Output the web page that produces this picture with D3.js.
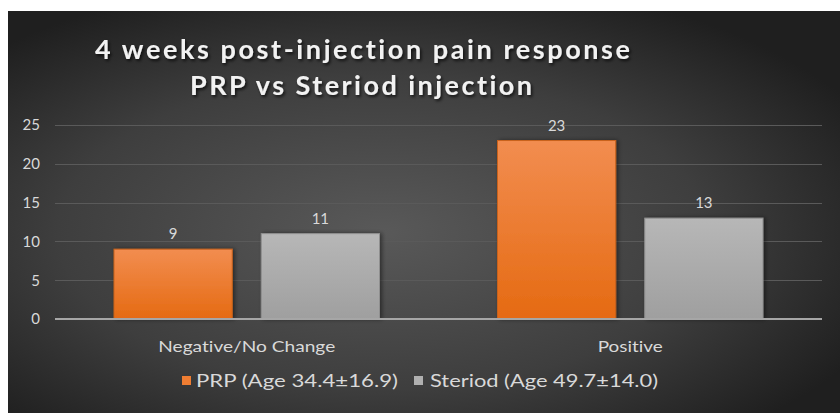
<!DOCTYPE html>
<html><head><meta charset="utf-8">
<script src="https://cdn.jsdelivr.net/npm/d3@7"></script>
<style>html,body{margin:0;padding:0;background:#fff;overflow:hidden}
text{font-variant-ligatures:none;font-feature-settings:"liga" 0,"clig" 0}</style>
</head><body>
<svg id="c" width="840" height="413"></svg>
<script>
const categories = ["Negative/No Change", "Positive"];
const seriesNames = ["PRP (Age 34.4\u00b116.9)", "Steriod (Age 49.7\u00b114.0)"];
const prpValues = [9, 23];
const steriodValues = [11, 13];
const yTicks = [0, 5, 10, 15, 20, 25];
const titleLines = ["4 weeks post-injection pain response", "PRP vs Steriod injection"];

const svg = d3.select("#c");
const defs = svg.append("defs");
const panel = {x: 8, y: 11, w: 832, h: 402};
const m = {left: 55, right: 822, top: 125, bottom: 319};
const FONT = "Lato, 'Open Sans', sans-serif";

const bg = defs.append("radialGradient").attr("id","bg").attr("cx","45%").attr("cy","55%").attr("r","65%");
bg.append("stop").attr("offset","0%").attr("stop-color","#595959");
bg.append("stop").attr("offset","60%").attr("stop-color","#3e3e3e");
bg.append("stop").attr("offset","100%").attr("stop-color","#1f1f1f");
const og = defs.append("linearGradient").attr("id","og").attr("x1",0).attr("y1",0).attr("x2",0).attr("y2",1);
og.append("stop").attr("offset","0%").attr("stop-color","#f28d50");
og.append("stop").attr("offset","100%").attr("stop-color","#e56a12");
const gg = defs.append("linearGradient").attr("id","gg").attr("x1",0).attr("y1",0).attr("x2",0).attr("y2",1);
gg.append("stop").attr("offset","0%").attr("stop-color","#b7b7b7");
gg.append("stop").attr("offset","100%").attr("stop-color","#9f9f9f");
const sh = defs.append("filter").attr("id","sh").attr("x","-10%").attr("y","-30%").attr("width","120%").attr("height","160%");
sh.append("feDropShadow").attr("dx",1.5).attr("dy",2).attr("stdDeviation",1.5).attr("flood-color","#000").attr("flood-opacity",0.7);
const bsh = defs.append("filter").attr("id","bsh").attr("x","-10%").attr("y","-10%").attr("width","125%").attr("height","125%");
bsh.append("feDropShadow").attr("dx",2).attr("dy",0).attr("stdDeviation",2).attr("flood-color","#000").attr("flood-opacity",0.45);

svg.append("rect").attr("x",panel.x).attr("y",panel.y).attr("width",panel.w).attr("height",panel.h).attr("fill","url(#bg)");

const y = d3.scaleLinear().domain([0, 25]).range([m.bottom, m.top]);
const x0 = d3.scaleBand().domain(categories).range([m.left, m.right]).padding(0);
const outer = 59;
const x1 = d3.scaleBand().domain(seriesNames).range([outer, x0.bandwidth() - outer]).paddingInner(0.197).paddingOuter(0);

svg.append("g").selectAll("line").data(yTicks.filter(d => d > 0)).join("line")
  .attr("x1", m.left).attr("x2", m.right)
  .attr("y1", d => Math.round(y(d)) + 0.5).attr("y2", d => Math.round(y(d)) + 0.5)
  .attr("stroke", "#5a5a5a").attr("stroke-width", 1);

const yAxis = d3.axisLeft(y).tickValues(yTicks).tickSize(0).tickPadding(0);
const ga = svg.append("g").attr("transform", `translate(40,0)`).call(yAxis);
ga.select(".domain").remove();
ga.selectAll("text").attr("fill", "#d9d9d9").attr("font-family", FONT).attr("font-size", 15);

const data = categories.map((c, i) => ({cat: c, vals: [
  {s: seriesNames[0], v: prpValues[i], fill: "url(#og)", stroke: "#c9621c"},
  {s: seriesNames[1], v: steriodValues[i], fill: "url(#gg)", stroke: "#8f8f8f"}
]}));

const groups = svg.append("g").selectAll("g").data(data).join("g")
  .attr("transform", d => `translate(${x0(d.cat)},0)`);
groups.selectAll("rect").data(d => d.vals).join("rect")
  .attr("x", d => x1(d.s)).attr("width", x1.bandwidth())
  .attr("y", d => y(d.v)).attr("height", d => y(0) - y(d.v))
  .attr("fill", d => d.fill).attr("stroke", d => d.stroke).attr("stroke-width", 1)
  .attr("filter", "url(#bsh)");
groups.selectAll("text").data(d => d.vals).join("text")
  .attr("x", d => x1(d.s) + x1.bandwidth() / 2).attr("y", d => y(d.v) - 10)
  .attr("text-anchor", "middle").attr("fill", "#d9d9d9")
  .attr("font-family", FONT).attr("font-size", 15)
  .text(d => d.v);

svg.append("line").attr("x1", m.left).attr("x2", m.right).attr("y1", y(0)).attr("y2", y(0))
  .attr("stroke", "#a6a6a6").attr("stroke-width", 2);

const xAxis = d3.axisBottom(x0).tickSize(0).tickPadding(0);
const gx = svg.append("g").attr("transform", `translate(0,${m.bottom + 33})`).call(xAxis);
gx.select(".domain").remove();
gx.selectAll("text").attr("dy", 0).attr("fill", "#d9d9d9").attr("font-family", FONT).attr("font-size", 16)
  .attr("textLength", (d, i) => [177, 65][i]).attr("lengthAdjust", "spacingAndGlyphs");

const tl = svg.append("g").attr("filter", "url(#sh)");
tl.selectAll("text").data(titleLines).join("text")
  .attr("x", (d, i) => [95, 190][i]).attr("y", (d, i) => [59, 95][i])
  .attr("fill", "#f2f2f2").attr("font-family", FONT).attr("font-weight", "bold")
  .attr("font-size", 27)
  .attr("textLength", (d, i) => [535, 342][i]).attr("lengthAdjust", "spacing")
  .text(d => d);

const legend = svg.append("g");
const legItems = [
  {name: seriesNames[0], color: "#ef7d32", sx: 182, tx: 196, tw: 202},
  {name: seriesNames[1], color: "#b0b0b0", sx: 414, tx: 430, tw: 228}
];
legItems.forEach(it => {
  legend.append("rect").attr("x", it.sx).attr("y", 376).attr("width", 9).attr("height", 9).attr("fill", it.color);
  legend.append("text").attr("x", it.tx).attr("y", 387).attr("fill", "#d9d9d9")
    .attr("font-family", FONT).attr("font-size", 18)
    .attr("textLength", it.tw).attr("lengthAdjust", "spacingAndGlyphs").text(it.name);
});
</script>
</body></html>
